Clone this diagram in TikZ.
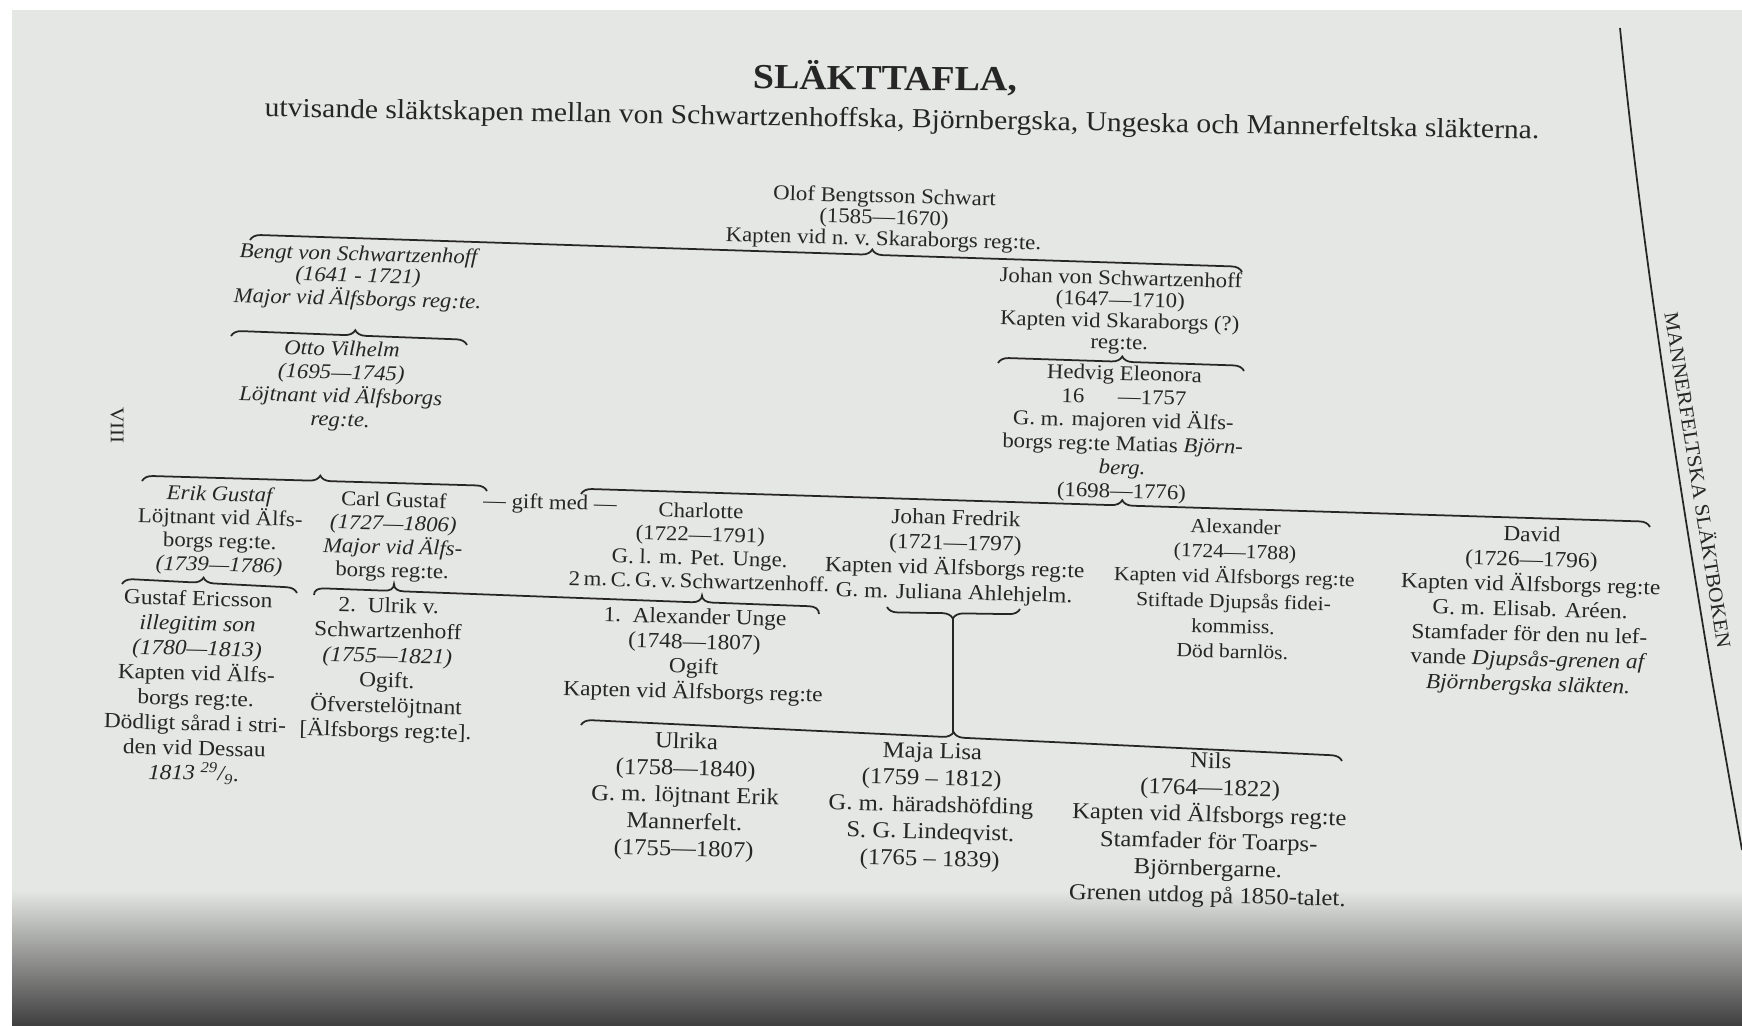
\documentclass[tikz,border=0pt]{standalone}
\usepackage{fontspec}
\setmainfont{Liberation Serif}[FakeStretch=1.08]
\usetikzlibrary{decorations.pathreplacing}
\definecolor{paper}{HTML}{E5E7E4}
\definecolor{ink}{HTML}{262626}
\begin{document}
\begin{tikzpicture}[x=0.02cm,y=-0.02cm,
  txt/.style={text=ink, inner sep=0pt, align=center},
  pers/.style={txt, rotate=-1.5},
  fa/.style={pers, font=\fontsize{12}{12.2}\selectfont},
  ia/.style={pers, font=\fontsize{12}{12.2}\selectfont\itshape},
  ib/.style={pers, font=\fontsize{12}{13.4}\selectfont\itshape},
  fb/.style={pers, font=\fontsize{12}{13.4}\selectfont},
  fc/.style={pers, font=\fontsize{12.3}{14.2}\selectfont},
  fd/.style={pers, font=\fontsize{13}{15.3}\selectfont},
  brc/.style={draw=ink, line width=1pt, decorate, decoration={brace, amplitude=6pt, aspect=#1}},
  link/.style={draw=ink, line width=1pt},
]
\useasboundingbox (0,0) rectangle (1742,1025);
% page
\fill[white] (0,0) rectangle (1742,1025);
\fill[paper] (12,10) rectangle (1742,1025);
\shade[top color=paper, bottom color=black!75] (12,890) rectangle (1742,1025);
\draw[ink, line width=1pt] (1620,28) .. controls (1637,200) and (1665,400) .. (1712,680) -- (1742,850);

% titles
\node[txt, rotate=-0.5, font=\bfseries\fontsize{20}{22}\selectfont] (title) at (885,78) {SLÄKTTAFLA,};
\node[txt, rotate=-1, font=\fontsize{15.6}{17}\selectfont] (sub) at (902,121) {utvisande släktskapen mellan von Schwartzenhoffska, Björnbergska, Ungeska och Mannerfeltska släkterna.};
\node[txt, rotate=-90, font=\fontsize{11}{12}\selectfont] (pagenum) at (117,425) {VIII};
\node[txt, rotate=-81, font=\fontsize{11.5}{12}\selectfont] (runhead) at (1699,480) {MANNERFELTSKA SLÄKTBOKEN};

% people
\node[fa] (olof) at (884,219) {Olof Bengtsson Schwart\\(1585—1670)\\Kapten vid n.\ v.\ Skaraborgs reg:te.};
\node[ia] (bengt) at (358,278) {Bengt von Schwartzenhoff\\(1641 - 1721)\\Major vid Älfsborgs reg:te.};
\node[fa] (johan) at (1120,312) {Johan von Schwartzenhoff\\(1647—1710)\\Kapten vid Skaraborgs (?)\\reg:te.};
\node[ib] (otto) at (341,386) {Otto Vilhelm\\(1695—1745)\\Löjtnant vid Älfsborgs\\reg:te.};
\node[fb] (hedvig) at (1123,434) {Hedvig Eleonora\\16\hspace{1.6em}—1757\\G. m. majoren vid Älfs-\\borgs reg:te Matias \textit{Björn-}\\\textit{berg.}\\(1698—1776)};
\node[fb] (erik) at (220,531) {\textit{Erik Gustaf}\\Löjtnant vid Älfs-\\borgs reg:te.\\\textit{(1739—1786)}};
\node[fb] (carl) at (393,537) {Carl Gustaf\\\textit{(1727—1806)}\\\textit{Major vid Älfs-}\\borgs reg:te.};
\node[fb] (gift) at (550,504) {— gift med —};
\node[fb] (charlotte) at (700,546) {Charlotte\\(1722—1791)\\G. l. m. Pet. Unge.\\2\,m.\,C.\,G.\,v.\,Schwartzenhoff.};
\node[fc] (jf) at (955,557) {Johan Fredrik\\(1721—1797)\\Kapten vid Älfsborgs reg:te\\G. m. Juliana Ahlehjelm.};
\node[pers, font=\fontsize{11.4}{14.2}\selectfont] (alex) at (1234,589) {Alexander\\(1724—1788)\\Kapten vid Älfsborgs reg:te\\Stiftade Djupsås fidei-\\kommiss.\\Död barnlös.};
\node[fc] (david) at (1530,611) {David\\(1726—1796)\\Kapten vid Älfsborgs reg:te\\G. m. Elisab. Aréen.\\Stamfader för den nu lef-\\vande \textit{Djupsås-grenen af}\\\textit{Björnbergska släkten.}};
\node[fc] (gustaf) at (196,687) {Gustaf Ericsson\\\textit{illegitim son}\\\textit{(1780—1813)}\\Kapten vid Älfs-\\borgs reg:te.\\Dödligt sårad i stri-\\den vid Dessau\\\textit{1813 \textsuperscript{29}/\textsubscript{9}.}};
\node[fc] (ulrik) at (387,670) {2.\ \ Ulrik v.\\Schwartzenhoff\\\textit{(1755—1821)}\\Ogift.\\Öfverstelöjtnant\\{[}Älfsborgs reg:te{]}.};
\node[fc] (unge) at (694,656) {1.\ \ Alexander Unge\\(1748—1807)\\Ogift\\Kapten vid Älfsborgs reg:te};
\node[fd] (ulrika) at (685,797) {Ulrika\\(1758—1840)\\G. m. löjtnant Erik\\Mannerfelt.\\(1755—1807)};
\node[fd] (maja) at (931,807) {Maja Lisa\\(1759 – 1812)\\G. m. häradshöfding\\S. G. Lindeqvist.\\(1765 – 1839)};
\node[fd] (nils) at (1209,830) {Nils\\(1764—1822)\\Kapten vid Älfsborgs reg:te\\Stamfader för Toarps-\\Björnbergarne.\\Grenen utdog på 1850-talet.};

% brace end points
\coordinate (b1l) at (250,240);  \coordinate (b1r) at (1242,272);
\coordinate (b2l) at (231,336);  \coordinate (b2r) at (467,345);
\coordinate (b3l) at (998,363);  \coordinate (b3r) at (1244,371);
\coordinate (b4l) at (142,481);  \coordinate (b4r) at (487,491);
\coordinate (b5l) at (581,494);  \coordinate (b5r) at (1650,527);
\coordinate (b6l) at (122,584);  \coordinate (b6r) at (297,593);
\coordinate (b7l) at (887,607);  \coordinate (b7r) at (1020,609);
\coordinate (b8l) at (581,725);  \coordinate (b8r) at (1342,761);
\coordinate (jftip) at (953,617); \coordinate (lowtip) at (953,732);
\coordinate (ccl) at (314,595);  \coordinate (ccr) at (819,614);

\draw[brc=0.627] (b1l) -- (b1r);
\draw[brc=0.525] (b2l) -- (b2r);
\draw[brc=0.504] (b3l) -- (b3r);
\draw[brc=0.516] (b4l) -- (b4r);
\draw[brc=0.506] (b5l) -- (b5r);
\draw[brc=0.463] (b6l) -- (b6r);
\draw[brc=0.504] (b7r) -- (b7l);
\draw[brc=0.489] (b8l) -- (b8r);
\draw[link] (jftip) -- (lowtip);
% double brace: Carl Gustaf -- Charlotte
\draw[link] (ccl) .. controls +(0,-5) and +(-6,0) .. ++(10,-6.6)
  -- ++(60,2.2) .. controls +(6,0.2) and +(0,5) .. ++(10,-6.6)
  .. controls +(0,5) and +(-6,-0.2) .. ++(10,7.4)
  -- ++(288,10.8) .. controls +(6,0.2) and +(0,4) .. ++(10,-6.6)
  .. controls +(0,4) and +(-6,-0.2) .. ++(10,7)
  -- ++(97,3.6) .. controls +(6,0.2) and +(0,-5) .. (ccr);
\end{tikzpicture}
\end{document}
